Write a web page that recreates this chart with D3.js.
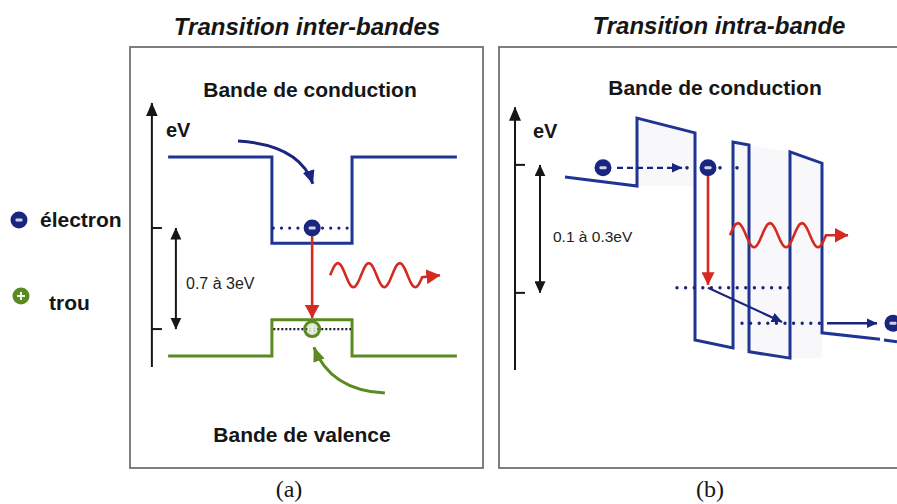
<!DOCTYPE html>
<html><head><meta charset="utf-8">
<script src="https://cdn.jsdelivr.net/npm/d3@7"></script>
<style>html,body{margin:0;padding:0;background:#fff;} svg{display:block;}</style>
</head><body><svg id="chart" width="897" height="504"></svg>
<script>
// ---------------- data (diagram units 0–100 inside each panel) ----------------
const titles = ["Transition inter-bandes", "Transition intra-bande"];
const panelLabels = ["(a)", "(b)"];
const legendItems = ["électron", "trou"];
const bandLabelsA = ["Bande de conduction", "Bande de valence"];
const bandLabelsB = ["Bande de conduction"];
const gapLabels = ["0.7 à 3eV", "0.1 à 0.3eV"];
const axisLabel = "eV";

// panel (a) : inter-band transition
const aConduction = [[10.8,73.9],[40.2,73.9],[40.2,53.4],[62.9,53.4],[62.9,73.9],[92.6,73.9]];
const aValence    = [[10.8,26.6],[40.2,26.6],[40.2,35.2],[62.9,35.2],[62.9,26.6],[92.6,26.6]];
const aElectronLevel = [[40.6,57.0],[62.6,57.0]];
const aHoleLevel     = [[40.6,33.0],[62.6,33.0]];
const aElectron = [51.6,57.0];
const aHole     = [51.6,33.0];
const aAxis  = [[6.2,24.0],[6.2,86.7]];
const aTicks = [57.0,33.0];
const aGap   = [[13.0,57.0],[13.0,33.0]];
const aRecombination = [[51.6,55.1],[51.6,35.6]];
const aCapture     = [[30.6,77.7],[48.2,76.7],[51.8,67.5]];
const aHoleCapture = [[72.2,17.8],[56.7,18.5],[52.1,28.7]];
const aPhoton = [56.7,83.0,87.8,45.8];   // start, end of wave, arrow tip, level

// panel (b) : intra-band (cascade) transition
const bProfile = [[16.5,69.1],[34.5,67.0],[34.5,83.1],[49.0,79.6],[49.0,30.4],[58.5,28.5],
                  [58.5,77.4],[62.5,76.7],[62.5,27.6],[72.75,26.1],[72.75,75.1],[80.75,72.4],
                  [80.75,32.1],[95.25,30.6]];
const bProfileTail = [[96.25,30.4],[99.5,30.0]];
const bBarriers = [
  [[34.5,83.1],[49.0,79.6],[49.0,67.0],[34.5,67.0]],
  [[58.5,77.4],[62.5,76.7],[62.5,27.6],[58.5,28.5]],
  [[62.5,76.7],[72.75,75.1],[80.75,72.4],[80.75,26.1],[72.75,26.1],[62.5,27.6]]
];
const bElectrons = [[26.0,71.3],[52.25,71.3],[98.5,34.4]];
const bTunnel = [[29.5,71.3],[45.75,71.3]];
const bTunnelDots = [47.0,55.25,59.5];
const bTunnelLevel = 71.3;
const bTransition = [[52.25,69.4],[52.25,43.5]];
const bLevels = [[[44.5,42.8],[73.5,42.8]], [[60.75,34.4],[82.0,34.4]]];
const bRelax = [[52.25,42.8],[70.75,34.7]];
const bExtract = [[82.0,34.4],[94.5,34.4]];
const bPhoton = [57.75,81.75,87.25,55.3];
const bAxis  = [[4.0,23.3],[4.0,85.7]];
const bTicks = [72.0,41.6];
const bGap   = [[10.25,72.0],[10.25,41.6]];

// ---------------- drawing ----------------
const svg = d3.select("#chart");
const blue = "#1f3493", navy = "#1a2580", red = "#d42a22", green = "#5b8a22",
      ink = "#161616", frameC = "#727272";
const sans = "'Liberation Sans', Arial, Helvetica, sans-serif";

const xa = d3.scaleLinear().domain([0,100]).range([130,483]);
const ya = d3.scaleLinear().domain([0,100]).range([468,47]);
const xb = d3.scaleLinear().domain([0,100]).range([499,899]);
const yb = d3.scaleLinear().domain([0,100]).range([468,47]);

const defs = svg.append("defs");
function marker(id, color, w, l) {
  defs.append("marker").attr("id", id)
    .attr("viewBox", `0 0 ${l} ${w}`).attr("refX", l - 0.5).attr("refY", w/2)
    .attr("markerWidth", l).attr("markerHeight", w)
    .attr("markerUnits", "userSpaceOnUse").attr("orient", "auto-start-reverse")
    .append("path").attr("d", `M0,0L${l},${w/2}L0,${w}Z`).attr("fill", color);
}
marker("mBlack", ink, 12, 14);
marker("mBlackS", ink, 11, 12);
marker("mRed", red, 15, 14);
marker("mRedS", red, 13, 13);
marker("mBlue", navy, 12, 14);
marker("mBlueS", navy, 10, 11);
marker("mGreen", green, 12, 15);

function lineOf(xs, ys) { return d3.line().x(d => xs(d[0])).y(d => ys(d[1])); }

// frames
svg.append("rect").attr("x", xa(0)).attr("y", ya(100))
  .attr("width", xa(100)-xa(0)).attr("height", ya(0)-ya(100))
  .attr("fill", "none").attr("stroke", frameC).attr("stroke-width", 1.8);
svg.append("rect").attr("x", xb(0)).attr("y", yb(100))
  .attr("width", xb(103)-xb(0)).attr("height", yb(0)-yb(100))
  .attr("fill", "none").attr("stroke", frameC).attr("stroke-width", 1.8);

// titles
[[titles[0], 307, 35], [titles[1], 719, 34]].forEach(([t,x,y]) =>
  svg.append("text").attr("x", x).attr("y", y).attr("text-anchor","middle")
    .attr("font-family", sans).attr("font-weight","bold").attr("font-style","italic")
    .attr("font-size", 24).attr("fill", ink).text(t));
// band labels
[[bandLabelsA[0],310,97],[bandLabelsA[1],302,442],[bandLabelsB[0],715,95]].forEach(([t,x,y]) =>
  svg.append("text").attr("x", x).attr("y", y).attr("text-anchor","middle")
    .attr("font-family", sans).attr("font-weight","bold").attr("font-size", 21)
    .attr("fill", ink).text(t));
// panel labels
[[panelLabels[0],289],[panelLabels[1],710]].forEach(([t,x]) =>
  svg.append("text").attr("x", x).attr("y", 497).attr("text-anchor","middle")
    .attr("font-family","'Liberation Serif','Times New Roman',serif").attr("font-size", 24)
    .attr("fill", ink).text(t));

// glyphs
function electron(g, cx, cy, r) {
  g.append("circle").attr("cx", cx).attr("cy", cy).attr("r", r).attr("fill", navy);
  g.append("rect").attr("x", cx-3.5).attr("y", cy-1.5).attr("width", 7).attr("height", 3)
    .attr("rx", 1).attr("fill", "#cfd3ea");
}
function holeFilled(g, cx, cy, r) {
  g.append("circle").attr("cx", cx).attr("cy", cy).attr("r", r).attr("fill", green);
  g.append("path").attr("d", `M${cx-4},${cy}H${cx+4}M${cx},${cy-4}V${cy+4}`)
    .attr("stroke", "#f2f5ea").attr("stroke-width", 2);
}

// legend
const leg = svg.append("g");
electron(leg, 19, 220, 8.5);
holeFilled(leg, 21, 296, 8.5);
leg.append("text").attr("x", 40).attr("y", 227).attr("font-family", sans).attr("font-weight","bold")
  .attr("font-size", 21).attr("fill", ink).text(legendItems[0]);
leg.append("text").attr("x", 49).attr("y", 310).attr("font-family", sans).attr("font-weight","bold")
  .attr("font-size", 21).attr("fill", ink).text(legendItems[1]);

// energy axes, ticks, gaps
function energyAxis(xs, ys, axis, ticks, gap, label, labelPos, eVPos, fs) {
  const g = svg.append("g");
  g.append("path").attr("d", lineOf(xs, ys)(axis)).attr("stroke", ink).attr("stroke-width", 2)
    .attr("fill","none").attr("marker-end","url(#mBlack)");
  ticks.forEach(t => g.append("line").attr("x1", xs(axis[0][0])).attr("x2", xs(axis[0][0]) + 10)
    .attr("y1", ys(t)).attr("y2", ys(t)).attr("stroke", ink).attr("stroke-width", 2));
  g.append("path").attr("d", lineOf(xs, ys)(gap)).attr("stroke", ink).attr("stroke-width", 2)
    .attr("fill","none").attr("marker-end","url(#mBlackS)").attr("marker-start","url(#mBlackS)");
  g.append("text").attr("x", labelPos[0]).attr("y", labelPos[1]).attr("font-family", sans)
    .attr("font-size", fs).attr("fill", "#222").text(label);
  g.append("text").attr("x", eVPos[0]).attr("y", eVPos[1]).attr("font-family", sans)
    .attr("font-weight","bold").attr("font-size", 20).attr("fill", ink).text(axisLabel);
}
energyAxis(xa, ya, aAxis, aTicks, aGap, gapLabels[0], [186,289], [166,137], 16);
energyAxis(xb, yb, bAxis, bTicks, bGap, gapLabels[1], [553,242], [533,138], 15.5);

// photon wave
function photon(xs, ys, p) {
  const x0 = xs(p[0]), x1 = xs(p[1]), tip = xs(p[2]), yc = ys(p[3]);
  const lam = (x1 - x0) / 3, amp = 12;
  const pts = d3.range(x0, x1 + 0.01, 1).map(x => [x, yc - amp*Math.sin(2*Math.PI*(x - x0)/lam)]);
  pts.push([tip, yc]);
  svg.append("path").attr("d", d3.line()(pts)).attr("fill","none").attr("stroke", red)
    .attr("stroke-width", 2.6).attr("marker-end","url(#mRed)");
}

// ---- panel (a)
const la = lineOf(xa, ya);
svg.append("path").attr("d", la(aConduction)).attr("fill","none").attr("stroke", blue).attr("stroke-width", 3);
svg.append("path").attr("d", la(aValence)).attr("fill","none").attr("stroke", green).attr("stroke-width", 3);
svg.append("path").attr("d", la(aElectronLevel)).attr("fill","none").attr("stroke", navy)
  .attr("stroke-width", 3.2).attr("stroke-linecap","round").attr("stroke-dasharray","0,8.2");
svg.append("path").attr("d", la(aHoleLevel)).attr("fill","none").attr("stroke", "#1c1c2a")
  .attr("stroke-width", 2.2).attr("stroke-dasharray","2,2");
svg.append("path").attr("d", la(aRecombination)).attr("fill","none").attr("stroke", red)
  .attr("stroke-width", 2.6).attr("marker-end","url(#mRed)");
// hole ring
svg.append("circle").attr("cx", xa(aHole[0])).attr("cy", ya(aHole[1])).attr("r", 7.5)
  .attr("fill", "rgba(120,160,70,0.25)").attr("stroke", green).attr("stroke-width", 3);
svg.append("path").attr("d", `M${xa(aHole[0])-4},${ya(aHole[1])}H${xa(aHole[0])+4}M${xa(aHole[0])},${ya(aHole[1])-4}V${ya(aHole[1])+4}`)
  .attr("stroke", "#eef2e4").attr("stroke-width", 1.8);
electron(svg, xa(aElectron[0]), ya(aElectron[1]), 8.5);
function curved(xs, ys, c, color, mk) {
  const p = d3.path();
  p.moveTo(xs(c[0][0]), ys(c[0][1]));
  p.quadraticCurveTo(xs(c[1][0]), ys(c[1][1]), xs(c[2][0]), ys(c[2][1]));
  svg.append("path").attr("d", p.toString()).attr("fill","none").attr("stroke", color)
    .attr("stroke-width", 3).attr("marker-end", `url(#${mk})`);
}
curved(xa, ya, aCapture, navy, "mBlue");
curved(xa, ya, aHoleCapture, green, "mGreen");
photon(xa, ya, aPhoton);

// ---- panel (b)
const lb = lineOf(xb, yb);
bBarriers.forEach(b => svg.append("path").attr("d", lb(b) + "Z").attr("fill", "#f8f8fb").attr("stroke","none"));
svg.append("path").attr("d", lb(bProfile)).attr("fill","none").attr("stroke", blue)
  .attr("stroke-width", 3).attr("stroke-linejoin","miter");
svg.append("path").attr("d", lb(bProfileTail)).attr("fill","none").attr("stroke", blue).attr("stroke-width", 3);
bLevels.forEach(l => svg.append("path").attr("d", lb(l)).attr("fill","none").attr("stroke", navy)
  .attr("stroke-width", 3.4).attr("stroke-linecap","round").attr("stroke-dasharray","0,8.6"));
svg.append("path").attr("d", lb(bTunnel)).attr("fill","none").attr("stroke", navy)
  .attr("stroke-width", 2.4).attr("stroke-dasharray","6,4").attr("marker-end","url(#mBlueS)");
bTunnelDots.forEach(x => svg.append("circle").attr("cx", xb(x)).attr("cy", yb(bTunnelLevel))
  .attr("r", 1.8).attr("fill", navy));
svg.append("path").attr("d", lb(bRelax)).attr("fill","none").attr("stroke", navy)
  .attr("stroke-width", 2.2).attr("marker-end","url(#mBlueS)");
svg.append("path").attr("d", lb(bExtract)).attr("fill","none").attr("stroke", navy)
  .attr("stroke-width", 2.4).attr("marker-end","url(#mBlueS)");
svg.append("path").attr("d", lb(bTransition)).attr("fill","none").attr("stroke", red)
  .attr("stroke-width", 2.6).attr("marker-end","url(#mRedS)");
bElectrons.forEach(e => electron(svg, xb(e[0]), yb(e[1]), 8.5));
photon(xb, yb, bPhoton);
</script></body></html>
